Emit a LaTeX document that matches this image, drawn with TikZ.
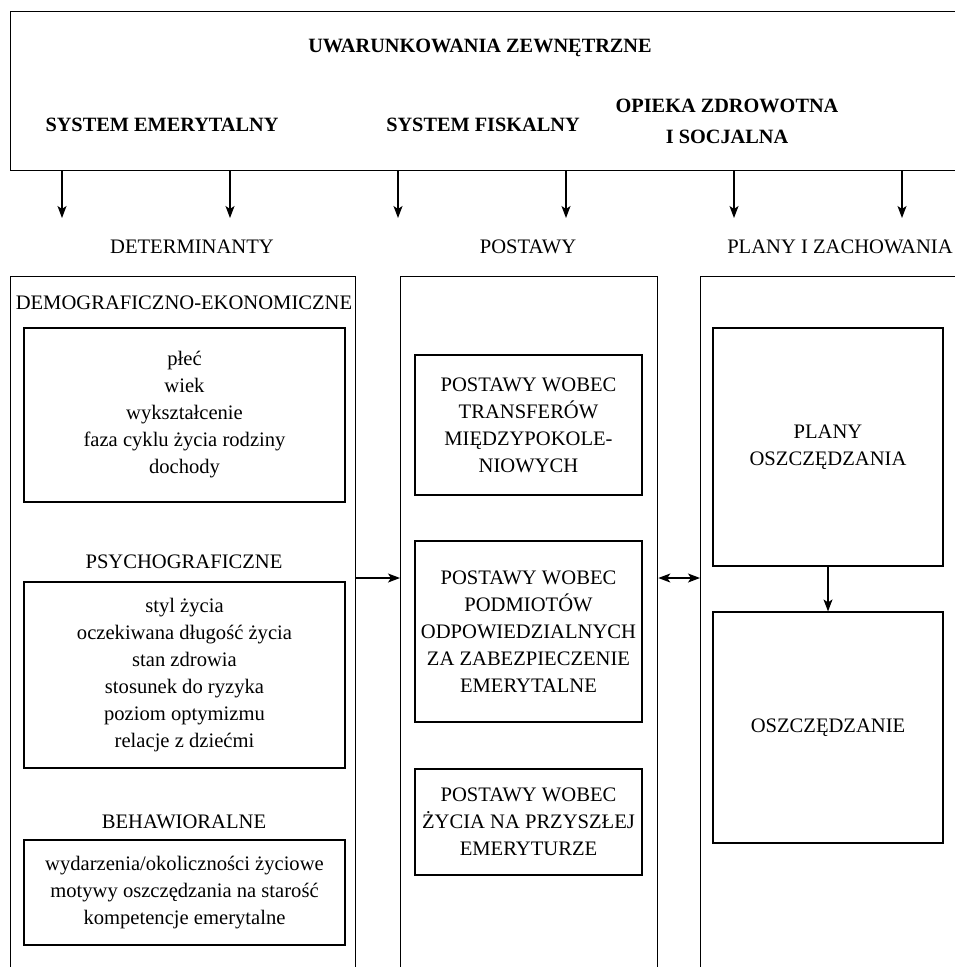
\documentclass[tikz,border=0pt]{standalone}
\usepackage{fontspec}
\setmainfont{Liberation Serif}
\usetikzlibrary{arrows.meta}
\begin{document}
\begin{tikzpicture}[x=1pt,y=-1pt,
  txt/.style={font={\fontsize{20.6}{27}\selectfont},align=center,inner sep=0pt},
  btxt/.style={font={\fontsize{20.3}{31}\selectfont\bfseries},align=center,inner sep=0pt},
  bigbox/.style={draw,line width=1.3pt,anchor=north west,inner sep=0pt},
  inbox/.style={draw,line width=1.2pt,inner sep=0pt,font={\fontsize{20.6}{27}\selectfont},align=center},
  arr/.style={line width=1.2pt,-{Stealth[length=12pt,width=9pt,inset=3pt]}},
  darr/.style={line width=1.2pt,{Stealth[length=12pt,width=9pt,inset=3pt]}-{Stealth[length=12pt,width=9pt,inset=3pt]}}]
\useasboundingbox (0,0) rectangle (955,967);
\clip (0,0) rectangle (955,967);
% top box
\node[bigbox,minimum width=970pt,minimum height=159pt] (top) at (10,11) {};
\node[btxt] (t0) at (480,48) {UWARUNKOWANIA ZEWNĘTRZNE};
\node[btxt] (t1) at (162,125) {SYSTEM EMERYTALNY};
\node[btxt] (t2) at (483,125) {SYSTEM FISKALNY};
\node[btxt] (t3) at (727,121) {OPIEKA ZDROWOTNA\\I SOCJALNA};
% arrow ends
\foreach \i/\x in {1/62,2/230,3/398,4/566,5/734,6/902}{
  \coordinate (e\i) at (\x,218);
  \draw[arr] (top.south -| e\i) -- (e\i);
}
% column headings
\node[txt] (h1) at (192,247) {DETERMINANTY};
\node[txt] (h2) at (528,247) {POSTAWY};
\node[txt] (h3) at (840,247) {PLANY I ZACHOWANIA};
% columns
\node[bigbox,minimum width=345pt,minimum height=720pt] (colL) at (10,276) {};
\node[bigbox,minimum width=257pt,minimum height=720pt] (colM) at (400,276) {};
\node[bigbox,minimum width=300pt,minimum height=720pt] (colR) at (700,276) {};
% left column
\node[txt] (l0) at (184,303) {DEMOGRAFICZNO-EKONOMICZNE};
\node[inbox,minimum width=321pt,minimum height=174pt] (b1) at (184.5,415)
  {płeć\\wiek\\wykształcenie\\faza cyklu życia rodziny\\dochody};
\node[txt] (l1) at (184,562) {PSYCHOGRAFICZNE};
\node[inbox,minimum width=321pt,minimum height=186pt] (b2) at (184.5,675)
  {styl życia\\oczekiwana długość życia\\stan zdrowia\\stosunek do ryzyka\\poziom optymizmu\\relacje z dziećmi};
\node[txt] (l2) at (184,822) {BEHAWIORALNE};
\node[inbox,minimum width=321pt,minimum height=105pt] (b3) at (184.5,892.5)
  {wydarzenia/okoliczności życiowe\\motywy oszczędzania na starość\\kompetencje emerytalne};
% middle column
\node[inbox,minimum width=227pt,minimum height=140pt] (m1) at (528.5,425)
  {POSTAWY WOBEC\\TRANSFERÓW\\MIĘDZYPOKOLE-\\NIOWYCH};
\node[inbox,minimum width=227pt,minimum height=181pt] (m2) at (528.5,631.5)
  {POSTAWY WOBEC\\PODMIOTÓW\\ODPOWIEDZIALNYCH\\ZA ZABEZPIECZENIE\\EMERYTALNE};
\node[inbox,minimum width=227pt,minimum height=106pt] (m3) at (528.5,822)
  {POSTAWY WOBEC\\ŻYCIA NA PRZYSZŁEJ\\EMERYTURZE};
% right column
\node[inbox,minimum width=230pt,minimum height=238pt] (r1) at (828,447)
  {PLANY\\OSZCZĘDZANIA};
\node[inbox,minimum width=230pt,minimum height=231pt] (r2) at (828,727.5)
  {OSZCZĘDZANIE};
% connectors
\coordinate (ya) at (0,578);
\draw[arr] (colL.east |- ya) -- (colM.west |- ya);
\draw[darr] (colM.east |- ya) -- (colR.west |- ya);
\draw[arr] (r1.south) -- (r2.north);
\end{tikzpicture}
\end{document}
